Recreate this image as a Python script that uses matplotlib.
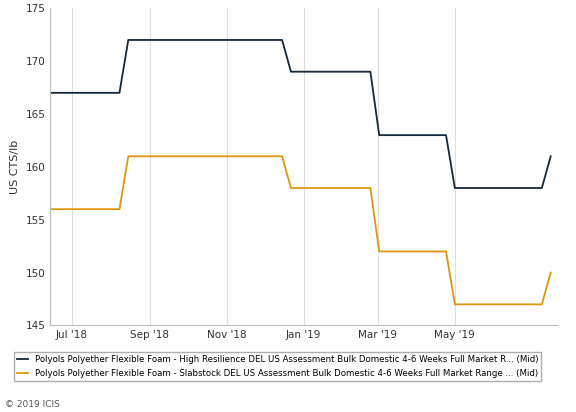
import matplotlib.pyplot as plt
import matplotlib.dates as mdates
import pandas as pd

dates = pd.to_datetime(["2018-06-15", "2018-08-08", "2018-08-15", "2018-12-15", "2018-12-22",
                        "2019-02-23", "2019-03-02", "2019-04-24", "2019-05-01", "2019-07-09",
                        "2019-07-16"])
high_res = [167, 167, 172, 172, 169, 169, 163, 163, 158, 158, 161]
slabstock = [156, 156, 161, 161, 158, 158, 152, 152, 147, 147, 150]

ticks = pd.to_datetime(["2018-07-01", "2018-09-01", "2018-11-01", "2019-01-01",
                        "2019-03-01", "2019-05-01"])
tick_labels = ["Jul '18", "Sep '18", "Nov '18", "Jan '19", "Mar '19", "May '19"]

fig = plt.figure(figsize=(5.76, 4.12), dpi=100)
ax = fig.add_axes([0.087, 0.21, 0.88, 0.77])
ax.plot(dates, high_res, color="#13283a", lw=1.3,
        label="Polyols Polyether Flexible Foam - High Resilience DEL US Assessment Bulk Domestic 4-6 Weeks Full Market R... (Mid)")
ax.plot(dates, slabstock, color="#e0950f", lw=1.3,
        label="Polyols Polyether Flexible Foam - Slabstock DEL US Assessment Bulk Domestic 4-6 Weeks Full Market Range ... (Mid)")

ax.set_xlim(pd.Timestamp("2018-06-14"), pd.Timestamp("2019-07-21"))
ax.set_ylim(145, 175)
ax.set_yticks(range(145, 176, 5))
ax.set_xticks(ticks)
ax.set_xticklabels(tick_labels)
ax.grid(axis="x", color="#dddddd", lw=0.8)
ax.set_ylabel("US CTS/lb", fontsize=8, color="#333333")
ax.tick_params(labelsize=7.5, colors="#333333", length=0)
for s in ["top", "right"]:
    ax.spines[s].set_visible(False)
for s in ["left", "bottom"]:
    ax.spines[s].set_color("#bbbbbb")

ax.legend(loc="upper left", bbox_to_anchor=(-0.08, -0.07), fontsize=6.2, frameon=True,
          edgecolor="#999999", fancybox=False, handlelength=1.2, borderpad=0.4)
fig.text(0.008, 0.012, "© 2019 ICIS", fontsize=6.5, color="#555555")
fig.savefig("out.png")
